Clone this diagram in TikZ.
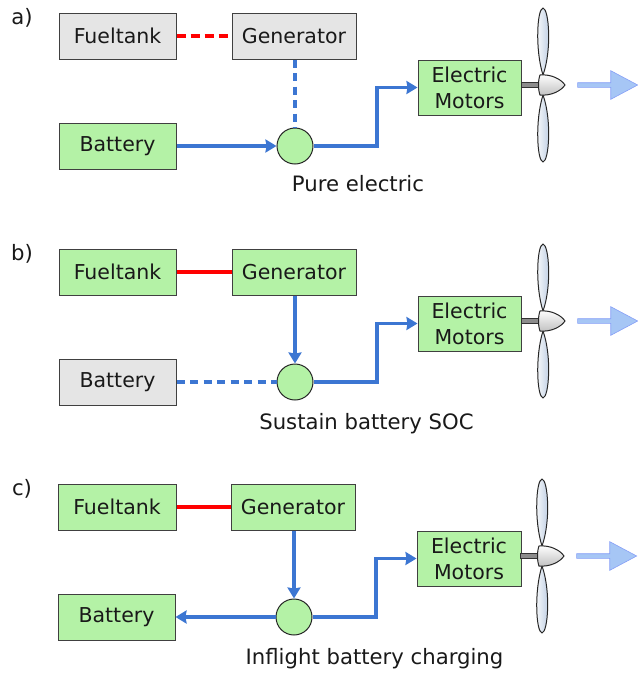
\documentclass[tikz,border=0pt]{standalone}
\usepackage{fontspec}
\setmainfont{DejaVu Sans}
\usetikzlibrary{shapes.arrows, arrows.meta}
\definecolor{mGreen}{HTML}{B4F2A6}
\definecolor{mGrey}{HTML}{E5E5E5}
\definecolor{mBlue}{HTML}{3C76D2}
\definecolor{mThrust}{HTML}{A6C6F5}
\definecolor{mBlade}{HTML}{B4C6DE}
\tikzstyle{mBox}=[draw=black!75, line width=1pt, font=\fontsize{20.5}{26}\selectfont, align=center, inner sep=0pt, text=black!90]
\tikzstyle{mOn}=[mBox, fill=mGreen]
\tikzstyle{mOff}=[mBox, fill=mGrey]
\tikzstyle{mJoin}=[circle, draw=black!85, line width=1pt, fill=mGreen, minimum size=36pt, inner sep=0pt]
\tikzstyle{mText}=[font=\fontsize{21.2}{24}\selectfont, text=black!90, inner sep=0pt]
\tikzstyle{power}=[-{Stealth[length=11pt,width=13pt,inset=1pt]}, draw=mBlue, line width=3.6pt]
\tikzstyle{powerOff}=[draw=mBlue, line width=3.6pt, dash pattern=on 8pt off 5.5pt]
\tikzstyle{fuel}=[draw=red, line width=3.6pt]
\tikzstyle{fuelOff}=[draw=red, line width=3.6pt, dash pattern=on 9pt off 5pt]
\tikzstyle{thrust}=[single arrow, draw=mThrust!80!blue, fill=mThrust, line width=0.6pt, minimum height=60pt, single arrow head extend=12pt, single arrow tip angle=56, inner sep=2pt]
\tikzset{
  propeller/.pic={
    \draw[black!80, fill=black!45, line width=1pt] (-22,-2.5) rectangle (-2,2.5);
    \draw[black!85, line width=1pt, left color=white, right color=mBlade]
      (0,-10) .. controls (-8,-35) and (-6,-76) .. (0,-77) .. controls (6,-76) and (9,-35) .. (0,-10) -- cycle;
    \draw[black!85, line width=1pt, left color=white, right color=mBlade]
      (0,10) .. controls (-8,35) and (-6,76) .. (0,77) .. controls (6,76) and (9,35) .. (0,10) -- cycle;
    \draw[black!85, line width=1pt, top color=white, bottom color=black!25]
      (-3,-10) .. controls (8,-11) and (18,-6) .. (22,0) .. controls (18,6) and (8,11) .. (-3,10) .. controls (-5,5) and (-5,-5) .. (-3,-10) -- cycle;
  }
}

\begin{document}
\begin{tikzpicture}[x=1pt,y=-1pt]
        \useasboundingbox (0,0) rectangle (638,673);

        % a)
        \node[mText] (la) at (22,18) {a)};
        \node[mOff, minimum width=117pt, minimum height=46pt] (f1) at (117.5,36) {Fueltank};
        \node[mOff, minimum width=124pt, minimum height=46pt] (g1) at (294,36) {Generator};
        \node[mOn, minimum width=117pt, minimum height=46pt] (b1) at (117.5,146) {Battery};
        \node[mJoin] (c1) at (295,146) {};
        \node[mOn, minimum width=103pt, minimum height=55pt] (m1) at (469.5,87.5) {Electric\\Motors};
        \node[mText] (t1) at (358,184) {Pure electric};
        \coordinate (j1) at (377,87.5);
        \pic at (543,85) {propeller};
        \node[thrust] (a1) at (605.5,85) {};

        \draw[fuelOff] (f1) -- (g1);
        \draw[powerOff] (c1 |- g1.south) -- (c1.north);
        \draw[power] (b1) -- (c1);
        \draw[power] (c1.east) -| (j1) -- (m1.west);

        % b)
        \node[mText] (lb) at (22,254) {b)};
        \node[mOn, minimum width=117pt, minimum height=46pt] (f2) at (117.5,272) {Fueltank};
        \node[mOn, minimum width=124pt, minimum height=46pt] (g2) at (294,272) {Generator};
        \node[mOff, minimum width=117pt, minimum height=46pt] (b2) at (117.5,382) {Battery};
        \node[mJoin] (c2) at (295,382) {};
        \node[mOn, minimum width=103pt, minimum height=55pt] (m2) at (469.5,323.5) {Electric\\Motors};
        \node[mText] (t2) at (366.5,424) {Sustain battery SOC};
        \coordinate (j2) at (377,323.5);
        \pic at (543,321) {propeller};
        \node[thrust] (a2) at (605.5,321) {};

        \draw[fuel] (f2) -- (g2);
        \draw[power] (c2 |- g2.south) -- (c2.north);
        \draw[powerOff] (b2) -- (c2);
        \draw[power] (c2.east) -| (j2) -- (m2.west);

        % c)
        \node[mText] (lc) at (22,489) {c)};
        \node[mOn, minimum width=118pt, minimum height=46pt] (f3) at (117,507) {Fueltank};
        \node[mOn, minimum width=124pt, minimum height=46pt] (g3) at (293,507) {Generator};
        \node[mOn, minimum width=117pt, minimum height=46pt] (b3) at (116.5,617) {Battery};
        \node[mJoin] (c3) at (294,617) {};
        \node[mOn, minimum width=104pt, minimum height=55pt] (m3) at (469,558.5) {Electric\\Motors};
        \node[mText] (t3) at (374.5,659) {Inflight battery charging};
        \coordinate (j3) at (376,558.5);
        \pic at (542,556) {propeller};
        \node[thrust] (a3) at (604.5,556) {};

        \draw[fuel] (f3) -- (g3);
        \draw[power] (c3 |- g3.south) -- (c3.north);
        \draw[power] (c3) -- (b3);
        \draw[power] (c3.east) -| (j3) -- (m3.west);
\end{tikzpicture}
\end{document}
